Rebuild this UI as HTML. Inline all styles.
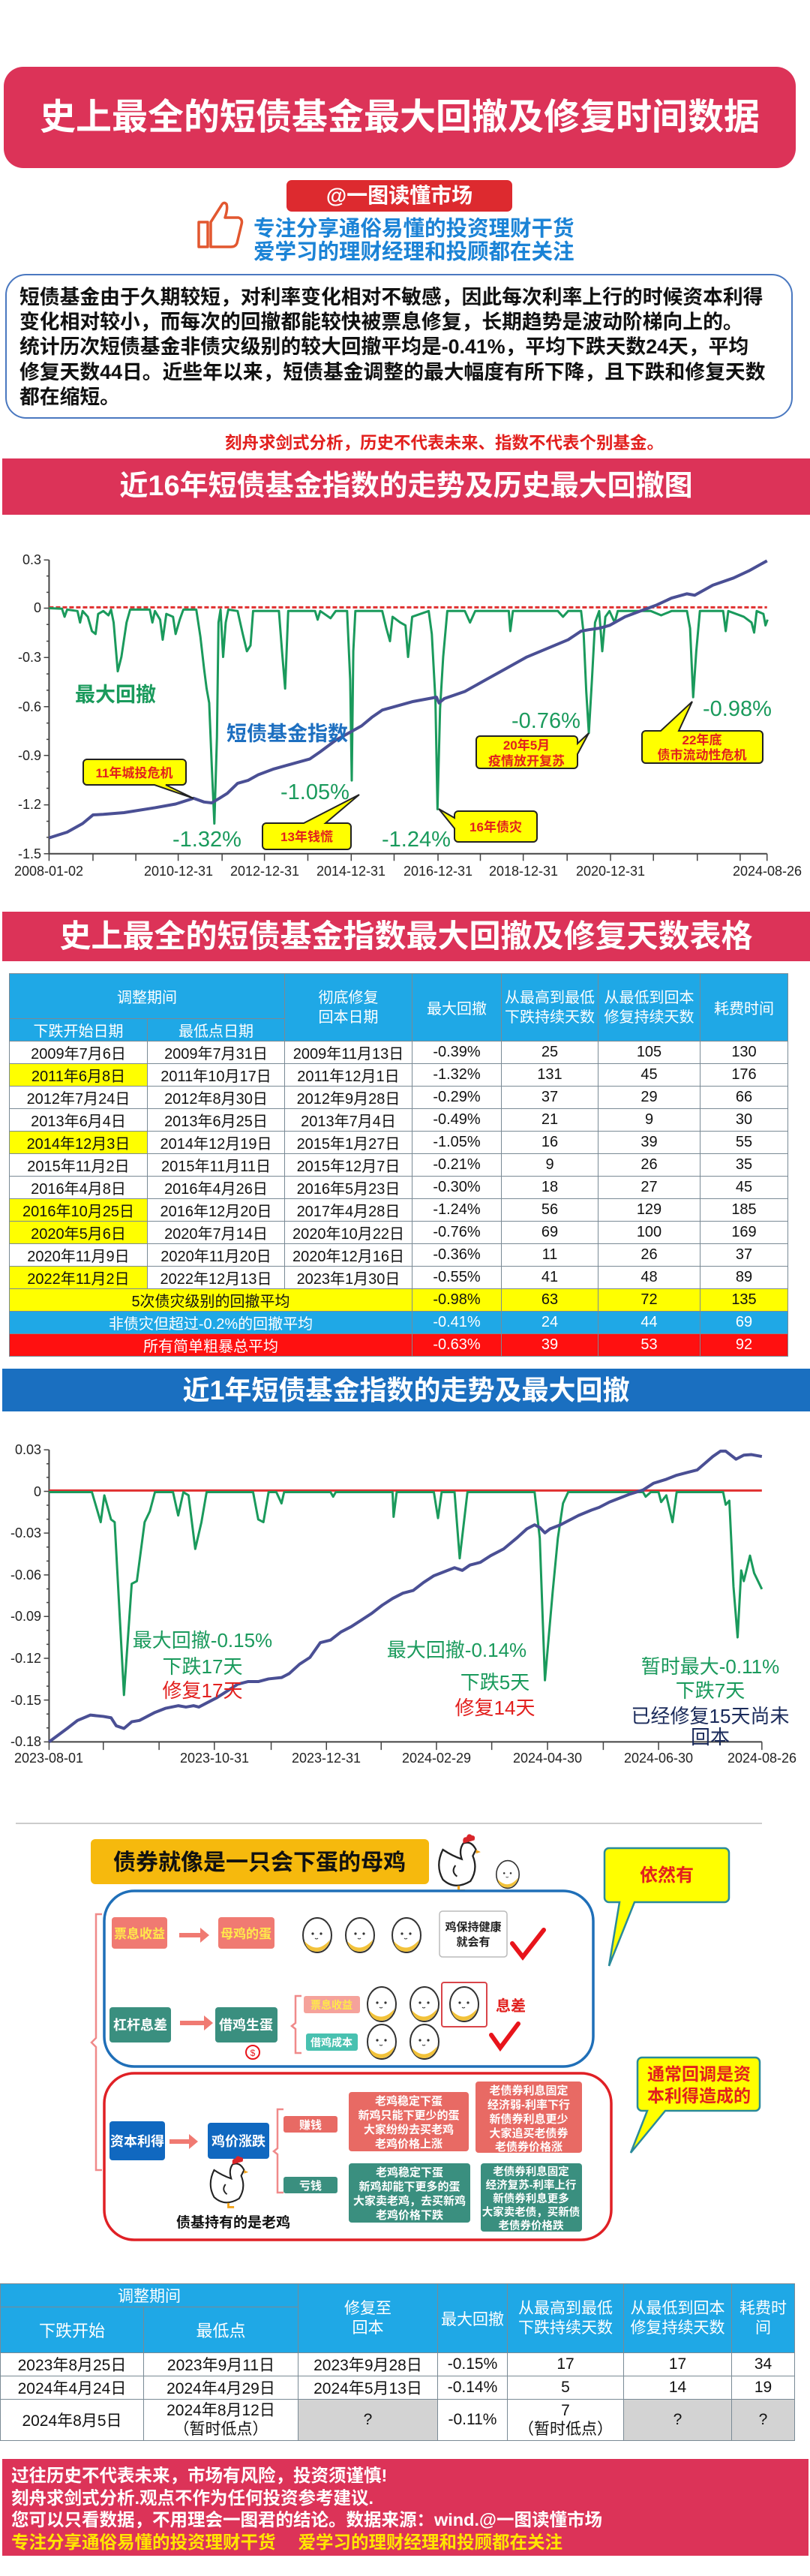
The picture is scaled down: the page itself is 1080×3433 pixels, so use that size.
<!DOCTYPE html>
<html><head><meta charset="utf-8">
<style>
*{margin:0;padding:0;box-sizing:border-box}
body{width:1080px;height:3433px;position:relative;background:#fff;font-family:"Liberation Sans","Noto Sans CJK SC",sans-serif;overflow:hidden}
.a{position:absolute}
.bar{position:absolute;color:#fff;font-weight:bold;text-align:center;white-space:nowrap}
table{border-collapse:collapse;position:absolute;table-layout:fixed}
td{border:1.5px solid #7a8a95;text-align:center;vertical-align:middle;white-space:nowrap;overflow:hidden;padding:0}
.h td{background:#1fa8e6;color:#fff}
.y{background:#ffff00}
.g{background:#d3d3d3}
</style></head><body>

<!-- Title -->
<div class="bar" style="left:5px;top:89px;width:1056px;height:135px;background:#dc3358;border-radius:26px;font-size:48px;line-height:135px">史上最全的短债基金最大回撤及修复时间数据</div>

<div class="bar" style="left:382px;top:240px;width:301px;height:42px;background:#dd2a2f;border-radius:7px;font-size:28px;line-height:42px">@一图读懂市场</div>
<svg class="a" style="left:262px;top:266px" width="64" height="66" viewBox="0 0 64 66">
<path d="M3,30 h12 v33 h-12 z M19,30 L33,8 Q36,2 40,6 Q42,12 38,24 L56,24 Q62,26 60,33 L54,58 Q52,63 46,63 L19,63 Z" fill="none" stroke="#e2572f" stroke-width="3.5" stroke-linejoin="round"/>
</svg>
<div class="a" style="left:338px;top:290px;font-size:28.5px;font-weight:bold;color:#1b83d6;line-height:31px;white-space:nowrap">专注分享通俗易懂的投资理财干货<br>爱学习的理财经理和投顾都在关注</div>

<div class="a" style="left:7px;top:365px;width:1050px;height:193px;border:2.5px solid #4a78c0;border-radius:28px"></div>
<div class="a" style="left:26px;top:380px;width:1030px;font-size:26.8px;font-weight:bold;line-height:33.2px;color:#111;white-space:nowrap">短债基金由于久期较短，对利率变化相对不敏感，因此每次利率上行的时候资本利得<br>变化相对较小，而每次的回撤都能较快被票息修复，长期趋势是波动阶梯向上的。<br>统计历次短债基金非债灾级别的较大回撤平均是-0.41%，平均下跌天数24天，平均<br>修复天数44日。近些年以来，短债基金调整的最大幅度有所下降，且下跌和修复天数<br>都在缩短。</div>
<div class="a" style="left:300px;top:573px;font-size:22.5px;font-weight:bold;color:#e2201e;white-space:nowrap">刻舟求剑式分析，历史不代表未来、指数不代表个别基金。</div>

<div class="bar" style="left:3px;top:611px;width:1077px;height:75px;background:#dc3358;font-size:38px;line-height:75px">近16年短债基金指数的走势及历史最大回撤图</div>

<!-- Chart 16Y -->
<svg class="a" style="left:0;top:0" width="1080" height="1200">
<g transform="translate(0,600) scale(0.6887,0.3827)" fill="none">
 <path d="M95,382 V1405 H1485" stroke="#444" stroke-width="2" vector-effect="non-scaling-stroke"/>
 <g stroke="#444" stroke-width="1.5" vector-effect="non-scaling-stroke">
  <path d="M85,382H95M85,550H95M85,722H95M85,893H95M85,1063H95M85,1235H95M85,1405H95" vector-effect="non-scaling-stroke"/>
  <path d="M90,438H95M90,495H95M90,607H95M90,665H95M90,779H95M90,836H95M90,950H95M90,1007H95M90,1120H95M90,1177H95M90,1292H95M90,1348H95" vector-effect="non-scaling-stroke"/>
  <path d="M95,1405V1430M180,1405V1430M263,1405V1430M345,1405V1430M430,1405V1430M512,1405V1430M596,1405V1430M680,1405V1430M763,1405V1430M848,1405V1430M930,1405V1430M1013,1405V1430M1098,1405V1430M1182,1405V1430M1265,1405V1430M1350,1405V1430M1433,1405V1430M1485,1405V1430" vector-effect="non-scaling-stroke"/>
 </g>
 <path d="M95,547H1485" stroke="#e03030" stroke-width="3" stroke-dasharray="6 3" vector-effect="non-scaling-stroke"/>
 <path d="M95,550 L120,552 L125,580 L130,555 L150,560 L155,600 L160,560 L170,580 L178,630 L185,640 L190,570 L200,560 L210,575 L215,555 L220,600 L228,770 L235,720 L245,600 L252,555 L290,555 L295,600 L300,560 L310,590 L315,660 L322,570 L335,580 L340,640 L348,590 L355,555 L380,555 L388,650 L395,760 L400,830 L405,880 L410,1100 L415,1300 L420,1000 L423,600 L427,555 L432,720 L437,600 L442,555 L460,560 L470,640 L478,700 L485,680 L490,560 L540,560 L546,700 L552,830 L558,560 L610,560 L615,590 L620,560 L640,585 L650,560 L672,560 L678,800 L681,1150 L684,700 L688,560 L740,560 L748,620 L755,665 L760,580 L775,600 L785,610 L790,720 L798,580 L830,560 L836,640 L843,870 L847,1250 L852,900 L858,720 L866,560 L900,560 L910,600 L920,560 L985,560 L988,630 L993,560 L1080,560 L1090,580 L1100,560 L1125,560 L1130,640 L1135,840 L1140,985 L1146,800 L1152,600 L1160,560 L1166,700 L1172,580 L1180,560 L1190,600 L1196,560 L1260,560 L1280,575 L1300,560 L1330,560 L1336,620 L1342,860 L1348,700 L1355,560 L1400,560 L1405,630 L1410,560 L1440,580 L1455,600 L1460,635 L1465,560 L1478,570 L1482,610 L1486,590" stroke="#1a9a5c" stroke-width="3" stroke-linejoin="round" vector-effect="non-scaling-stroke"/>
 <path d="M95,1350 L130,1330 L160,1300 L180,1270 L200,1268 L240,1262 L300,1245 L340,1232 L375,1212 L395,1225 L410,1228 L425,1212 L440,1195 L460,1160 L480,1150 L500,1130 L530,1110 L560,1095 L600,1075 L620,1050 L650,1010 L680,980 L700,960 L720,930 L740,905 L770,890 L800,875 L845,860 L850,880 L860,865 L900,840 L940,800 L980,760 L1020,720 L1060,690 L1100,660 L1125,630 L1140,625 L1160,620 L1180,610 L1210,580 L1240,560 L1270,540 L1300,515 L1330,500 L1345,505 L1380,470 L1420,445 L1450,420 L1485,385" stroke="#4a4f94" stroke-width="4" stroke-linejoin="round" vector-effect="non-scaling-stroke"/>
</g>
<g font-size="18" fill="#222" text-anchor="end">
 <text x="55" y="752">0.3</text><text x="55" y="816">0</text><text x="55" y="882">-0.3</text><text x="55" y="948">-0.6</text><text x="55" y="1013">-0.9</text><text x="55" y="1078">-1.2</text><text x="55" y="1144">-1.5</text>
</g>
<g font-size="18" fill="#222" text-anchor="middle">
 <text x="65" y="1167">2008-01-02</text><text x="238" y="1167">2010-12-31</text><text x="353" y="1167">2012-12-31</text><text x="468" y="1167">2014-12-31</text><text x="584" y="1167">2016-12-31</text><text x="698" y="1167">2018-12-31</text><text x="814" y="1167">2020-12-31</text><text x="1023" y="1167">2024-08-26</text>
</g>
<g font-weight="bold">
 <text x="100" y="935" font-size="27" fill="#1a9a5c">最大回撤</text>
 <text x="302" y="987" font-size="27" fill="#1d6fc0">短债基金指数</text>
</g>
<g font-size="29" fill="#1a9a5c">
 <text x="230" y="1128">-1.32%</text><text x="374" y="1065">-1.05%</text><text x="509" y="1128">-1.24%</text><text x="682" y="970">-0.76%</text><text x="937" y="954">-0.98%</text>
</g>
<g stroke="#222" stroke-width="2" fill="#ffff00">
 <path d="M116,1012 h127 a5,5 0 0 1 5,5 v24 a5,5 0 0 1 -5,5 h-22 l37,18 l-52,-18 h-90 a5,5 0 0 1 -5,-5 v-24 a5,5 0 0 1 5,-5z"/>
 <path d="M355,1097 h50 l74,-38 l-45,38 h29 a5,5 0 0 1 5,5 v25 a5,5 0 0 1 -5,5 h-108 a5,5 0 0 1 -5,-5 v-25 a5,5 0 0 1 5,-5z"/>
 <path d="M611,1081 h100 a5,5 0 0 1 5,5 v31 a5,5 0 0 1 -5,5 h-100 a5,5 0 0 1 -5,-5 v-13 l-21,-26 l21,12 v-4 a5,5 0 0 1 5,-5z"/>
 <path d="M640,981 h125 a5,5 0 0 1 5,5 v5 l15,-14 l-15,28 v14 a5,5 0 0 1 -5,5 h-125 a5,5 0 0 1 -5,-5 v-33 a5,5 0 0 1 5,-5z"/>
 <path d="M861,974 h20 l42,-39 l-18,39 h107 a5,5 0 0 1 5,5 v33 a5,5 0 0 1 -5,5 h-151 a5,5 0 0 1 -5,-5 v-33 a5,5 0 0 1 5,-5z"/>
</g>
<g font-size="17" font-weight="bold" fill="#e2201e" text-anchor="middle">
 <text x="179" y="1036">11年城投危机</text>
 <text x="409" y="1121">13年钱慌</text>
 <text x="661" y="1108">16年债灾</text>
 <text x="702" y="999">20年5月</text><text x="702" y="1020">疫情放开复苏</text>
 <text x="936" y="992">22年底</text><text x="936" y="1012">债市流动性危机</text>
</g>
</svg>

<div class="bar" style="left:3px;top:1215px;width:1077px;height:66px;background:#dc3358;font-size:42px;line-height:66px">史上最全的短债基金指数最大回撤及修复天数表格</div>

<table style="left:12px;top:1297px;width:1038px;font-size:20px;color:#111">
<colgroup><col style="width:184px"><col style="width:183px"><col style="width:170px"><col style="width:119px"><col style="width:129px"><col style="width:136px"><col style="width:117px"></colgroup>
<tr class="h" style="height:60px"><td colspan="2">调整期间</td><td rowspan="2" style="line-height:26px">彻底修复<br>回本日期</td><td rowspan="2">最大回撤</td><td rowspan="2" style="line-height:26px">从最高到最低<br>下跌持续天数</td><td rowspan="2" style="line-height:26px">从最低到回本<br>修复持续天数</td><td rowspan="2">耗费时间</td></tr>
<tr class="h" style="height:28px"><td>下跌开始日期</td><td>最低点日期</td></tr>
<tr style="height:29.6px"><td>2009年7月6日</td><td>2009年7月31日</td><td>2009年11月13日</td><td>-0.39%</td><td>25</td><td>105</td><td>130</td></tr>
<tr style="height:29.6px"><td class="y">2011年6月8日</td><td>2011年10月17日</td><td>2011年12月1日</td><td>-1.32%</td><td>131</td><td>45</td><td>176</td></tr>
<tr style="height:29.6px"><td>2012年7月24日</td><td>2012年8月30日</td><td>2012年9月28日</td><td>-0.29%</td><td>37</td><td>29</td><td>66</td></tr>
<tr style="height:29.6px"><td>2013年6月4日</td><td>2013年6月25日</td><td>2013年7月4日</td><td>-0.49%</td><td>21</td><td>9</td><td>30</td></tr>
<tr style="height:29.6px"><td class="y">2014年12月3日</td><td>2014年12月19日</td><td>2015年1月27日</td><td>-1.05%</td><td>16</td><td>39</td><td>55</td></tr>
<tr style="height:29.6px"><td>2015年11月2日</td><td>2015年11月11日</td><td>2015年12月7日</td><td>-0.21%</td><td>9</td><td>26</td><td>35</td></tr>
<tr style="height:29.6px"><td>2016年4月8日</td><td>2016年4月26日</td><td>2016年5月23日</td><td>-0.30%</td><td>18</td><td>27</td><td>45</td></tr>
<tr style="height:29.6px"><td class="y">2016年10月25日</td><td>2016年12月20日</td><td>2017年4月28日</td><td>-1.24%</td><td>56</td><td>129</td><td>185</td></tr>
<tr style="height:29.6px"><td class="y">2020年5月6日</td><td>2020年7月14日</td><td>2020年10月22日</td><td>-0.76%</td><td>69</td><td>100</td><td>169</td></tr>
<tr style="height:29.6px"><td>2020年11月9日</td><td>2020年11月20日</td><td>2020年12月16日</td><td>-0.36%</td><td>11</td><td>26</td><td>37</td></tr>
<tr style="height:29.6px"><td class="y">2022年11月2日</td><td>2022年12月13日</td><td>2023年1月30日</td><td>-0.55%</td><td>41</td><td>48</td><td>89</td></tr>
<tr style="height:29.6px;background:#ffff00"><td colspan="3">5次债灾级别的回撤平均</td><td>-0.98%</td><td>63</td><td>72</td><td>135</td></tr>
<tr style="height:29.6px;background:#1fa8e6;color:#fff"><td colspan="3">非债灾但超过-0.2%的回撤平均</td><td>-0.41%</td><td>24</td><td>44</td><td>69</td></tr>
<tr style="height:29.6px;background:#ff1010;color:#fff"><td colspan="3">所有简单粗暴总平均</td><td>-0.63%</td><td>39</td><td>53</td><td>92</td></tr>
</table>

<div class="bar" style="left:3px;top:1824px;width:1077px;height:57px;background:#1a6fc0;font-size:36px;line-height:57px">近1年短债基金指数的走势及最大回撤</div>

<!-- Chart 1Y -->
<svg class="a" style="left:0;top:1800px" width="1080" height="640">
<g transform="scale(0.6887,0.3571)" fill="none">
 <path d="M95,370 V1460 H1475" stroke="#444" stroke-width="2" vector-effect="non-scaling-stroke"/>
 <path d="M85,370H95M85,525H95M85,681H95M85,837H95M85,992H95M85,1148H95M85,1304H95M85,1460H95M90,422H95M90,473H95M90,577H95M90,629H95M90,733H95M90,785H95M90,889H95M90,940H95M90,1044H95M90,1096H95M90,1200H95M90,1252H95M90,1356H95M90,1408H95" stroke="#444" stroke-width="1.5" vector-effect="non-scaling-stroke"/>
 <path d="M95,1460V1490M200,1460V1490M308,1460V1490M415,1460V1490M525,1460V1490M632,1460V1490M738,1460V1490M845,1460V1490M952,1460V1490M1060,1460V1490M1168,1460V1490M1275,1460V1490M1475,1460V1490" stroke="#444" stroke-width="1.5" vector-effect="non-scaling-stroke"/>
 <path d="M95,522H1475" stroke="#e03030" stroke-width="3" vector-effect="non-scaling-stroke"/>
 <path d="M95,528 L178,528 L195,640 L202,540 L215,630 L222,640 L240,1285 L255,870 L265,860 L280,640 L290,600 L300,528 L335,528 L345,615 L355,528 L365,540 L378,740 L390,640 L400,528 L490,528 L500,630 L510,640 L520,528 L535,528 L545,570 L550,528 L640,528 L645,545 L650,528 L760,528 L762,620 L768,528 L840,528 L848,625 L855,528 L880,528 L890,775 L905,528 L1035,528 L1045,700 L1055,1230 L1070,900 L1080,700 L1090,570 L1100,528 L1245,528 L1250,545 L1260,528 L1275,528 L1280,565 L1290,540 L1302,640 L1310,528 L1400,528 L1405,575 L1412,560 L1420,880 L1428,1070 L1435,820 L1440,860 L1452,765 L1460,830 L1475,890" stroke="#1a9a5c" stroke-width="3" stroke-linejoin="round" vector-effect="non-scaling-stroke"/>
 <path d="M95,1460 L130,1410 L150,1380 L175,1360 L200,1365 L215,1370 L225,1400 L240,1410 L255,1385 L270,1380 L285,1365 L300,1350 L320,1335 L345,1325 L360,1330 L375,1325 L385,1330 L400,1315 L420,1295 L440,1270 L460,1245 L480,1235 L500,1235 L520,1225 L545,1220 L560,1205 L580,1170 L600,1145 L620,1090 L640,1080 L660,1050 L680,1030 L700,1005 L720,980 L740,950 L760,925 L780,905 L800,895 L820,865 L840,840 L860,825 L880,810 L895,820 L910,800 L930,790 L950,765 L975,740 L1000,700 L1020,665 L1035,650 L1045,660 L1055,680 L1065,665 L1085,650 L1100,635 L1120,615 L1145,595 L1160,585 L1180,565 L1200,550 L1220,535 L1245,520 L1265,495 L1290,480 L1310,465 L1330,455 L1350,445 L1365,420 L1380,395 L1395,375 L1405,375 L1415,390 L1425,405 L1440,390 L1455,388 L1475,395" stroke="#4a4f94" stroke-width="4" stroke-linejoin="round" vector-effect="non-scaling-stroke"/>
</g>
<g font-size="18" fill="#222" text-anchor="end">
 <text x="55" y="138">0.03</text><text x="55" y="194">0</text><text x="55" y="249">-0.03</text><text x="55" y="305">-0.06</text><text x="55" y="360">-0.09</text><text x="55" y="416">-0.12</text><text x="55" y="472">-0.15</text><text x="55" y="527">-0.18</text>
</g>
<g font-size="18" fill="#222" text-anchor="middle">
 <text x="65" y="549">2023-08-01</text><text x="286" y="549">2023-10-31</text><text x="435" y="549">2023-12-31</text><text x="582" y="549">2024-02-29</text><text x="730" y="549">2024-04-30</text><text x="878" y="549">2024-06-30</text><text x="1016" y="549">2024-08-26</text>
</g>
<g font-size="26" text-anchor="middle">
 <text x="270" y="395" fill="#1a9a5c">最大回撤-0.15%</text>
 <text x="270" y="430" fill="#1a9a5c">下跌17天</text>
 <text x="270" y="462" fill="#e2201e">修复17天</text>
 <text x="609" y="408" fill="#1a9a5c">最大回撤-0.14%</text>
 <text x="660" y="451" fill="#1a9a5c">下跌5天</text>
 <text x="660" y="485" fill="#e2201e">修复14天</text>
 <text x="947" y="430" fill="#1a9a5c">暂时最大-0.11%</text>
 <text x="947" y="462" fill="#1a9a5c">下跌7天</text>
 <text x="947" y="496" fill="#1a2a5a">已经修复15天尚未</text>
 <text x="947" y="524" fill="#1a2a5a">回本</text>
</g>
<line x1="21" y1="630" x2="1016" y2="630" stroke="#ccc" stroke-width="2"/>
</svg>

<!-- Diagram -->
<svg class="a" style="left:0;top:0" width="1080" height="3433" viewBox="0 0 1080 3433">
<defs>
 <g id="egg"><ellipse cx="0" cy="0" rx="19" ry="23" fill="#fff" stroke="#333" stroke-width="2"/><path d="M-17,8 Q0,26 17,6 Q14,20 0,22 Q-14,22 -17,8z" fill="#f2c23a"/><circle cx="-6" cy="-2" r="1.6" fill="#333"/><circle cx="5" cy="-2" r="1.6" fill="#333"/><path d="M-3,4 q2,2 4,0" stroke="#333" fill="none"/></g>
 <g id="hen"><path d="M10,20 Q0,40 10,58 Q25,72 45,60 Q55,45 48,28 L52,20 Q46,8 36,12 Q30,20 34,32 Q22,28 10,20z" fill="#fff" stroke="#222" stroke-width="2.2"/><path d="M36,12 q-2,-8 4,-8 q2,-6 7,-2 q5,0 3,6z" fill="#d9252a"/><path d="M52,20 l6,3 l-6,2z" fill="#f2a31a"/><path d="M30,66 v6 h8" stroke="#f2a31a" stroke-width="3" fill="none"/><path d="M26,40 q-6,8 2,14" stroke="#222" stroke-width="2" fill="none"/></g>
</defs>
<rect x="121" y="2451" width="451" height="60" rx="6" fill="#f6b90d"/>
<text x="346" y="2492" font-size="30" font-weight="bold" fill="#111" text-anchor="middle">债券就像是一只会下蛋的母鸡</text>
<use href="#hen" transform="translate(580,2444) scale(1.05)"/>
<use href="#egg" transform="translate(677,2498) scale(0.8)"/>

<rect x="139" y="2520" width="652" height="234" rx="40" fill="none" stroke="#1f6fb8" stroke-width="3.5"/>
<path d="M136,2551 h-8 v165 l-6,6 l6,6 v164 h8" fill="none" stroke="#f08a8a" stroke-width="2.5"/>
<rect x="149" y="2555" width="74" height="42" rx="4" fill="#f07a72"/><text x="186" y="2583" font-size="17" font-weight="bold" fill="#ffe94a" text-anchor="middle">票息收益</text>
<path d="M239,2576 h28 v-7 l12,10 l-12,10 v-7 h-28z" fill="#f07a72"/>
<rect x="291" y="2555" width="75" height="42" rx="4" fill="#f07a72"/><text x="328" y="2583" font-size="17" font-weight="bold" fill="#ffe94a" text-anchor="middle">母鸡的蛋</text>
<use href="#egg" x="423" y="2579"/><use href="#egg" x="480" y="2579"/><use href="#egg" x="542" y="2579"/>
<rect x="586" y="2547" width="90" height="61" rx="4" fill="#fff" stroke="#bbb" stroke-width="1.5"/>
<text x="631" y="2573" font-size="15" font-weight="bold" fill="#222" text-anchor="middle">鸡保持健康</text><text x="631" y="2593" font-size="15" font-weight="bold" fill="#222" text-anchor="middle">就会有</text>
<path d="M683,2590 l14,18 l28,-36" fill="none" stroke="#e8141b" stroke-width="6" stroke-linecap="round"/>

<rect x="146" y="2675" width="82" height="47" rx="4" fill="#3a8f7f"/><text x="187" y="2705" font-size="18" font-weight="bold" fill="#fff" text-anchor="middle">杠杆息差</text>
<path d="M240,2693 h32 v-7 l12,10 l-12,10 v-7 h-32z" fill="#f07a72"/>
<rect x="287" y="2675" width="83" height="47" rx="4" fill="#3a8f7f"/><text x="328" y="2705" font-size="18" font-weight="bold" fill="#fff" text-anchor="middle">借鸡生蛋</text>
<path d="M402,2660 h-8 v36 l-5,4 l5,4 v32 h8" fill="none" stroke="#f08a8a" stroke-width="2.5"/>
<rect x="405" y="2660" width="75" height="23" rx="3" fill="#f5a29b"/><text x="442" y="2677" font-size="14" font-weight="bold" fill="#ffe94a" text-anchor="middle">票息收益</text>
<rect x="408" y="2710" width="69" height="23" rx="3" fill="#48c1b0"/><text x="442" y="2727" font-size="14" font-weight="bold" fill="#fff" text-anchor="middle">借鸡成本</text>
<use href="#egg" x="509" y="2671"/><use href="#egg" x="566" y="2671"/><use href="#egg" x="619" y="2671"/>
<rect x="589" y="2642" width="60" height="59" rx="3" fill="none" stroke="#d9454a" stroke-width="2"/>
<text x="661" y="2680" font-size="20" font-weight="bold" fill="#e2201e">息差</text>
<use href="#egg" x="509" y="2721"/><use href="#egg" x="566" y="2721"/>
<path d="M655,2712 l12,17 l24,-32" fill="none" stroke="#e8141b" stroke-width="6" stroke-linecap="round"/>
<circle cx="337" cy="2735" r="9" fill="none" stroke="#e8141b" stroke-width="2"/><text x="337" y="2740" font-size="12" fill="#e8141b" text-anchor="middle">$</text>

<path d="M139,2803 a40,40 0 0 1 40,-40 H775 a40,40 0 0 1 40,40 V2945 a40,40 0 0 1 -40,40 H179 a40,40 0 0 1 -40,-40 Z" fill="none" stroke="#e02025" stroke-width="3.5"/>
<rect x="146" y="2827" width="74" height="52" rx="4" fill="#1068c0"/><text x="183" y="2860" font-size="18" font-weight="bold" fill="#fff" text-anchor="middle">资本利得</text>
<path d="M226,2851 h26 v-7 l12,10 l-12,10 v-7 h-26z" fill="#f07a72"/>
<rect x="277" y="2829" width="82" height="48" rx="4" fill="#1068c0"/><text x="318" y="2860" font-size="18" font-weight="bold" fill="#fff" text-anchor="middle">鸡价涨跌</text>
<path d="M378,2811 h-8 v52 l-5,4 l5,4 v51 h8" fill="none" stroke="#f08a8a" stroke-width="2.5"/>
<rect x="378" y="2820" width="72" height="22" rx="3" fill="#e86a64"/><text x="414" y="2837" font-size="15" font-weight="bold" fill="#fff" text-anchor="middle">赚钱</text>
<rect x="378" y="2901" width="72" height="22" rx="3" fill="#3a8f7f"/><text x="414" y="2918" font-size="15" font-weight="bold" fill="#fff" text-anchor="middle">亏钱</text>
<rect x="465" y="2788" width="160" height="79" rx="4" fill="#e86a64"/>
<g font-size="15" font-weight="bold" fill="#fff" text-anchor="middle">
 <text x="545" y="2805">老鸡稳定下蛋</text><text x="545" y="2824">新鸡只能下更少的蛋</text><text x="545" y="2843">大家纷纷去买老鸡</text><text x="545" y="2862">老鸡价格上涨</text>
</g>
<rect x="634" y="2774" width="142" height="95" rx="4" fill="#e86a64"/>
<g font-size="15" font-weight="bold" fill="#fff" text-anchor="middle">
 <text x="705" y="2791">老债券利息固定</text><text x="705" y="2810">经济弱-利率下行</text><text x="705" y="2829">新债券利息更少</text><text x="705" y="2848">大家追买老债券</text><text x="705" y="2866">老债券价格涨</text>
</g>
<rect x="465" y="2883" width="162" height="79" rx="4" fill="#3a8f7f"/>
<g font-size="15" font-weight="bold" fill="#fff" text-anchor="middle">
 <text x="546" y="2900">老鸡稳定下蛋</text><text x="546" y="2919">新鸡却能下更多的蛋</text><text x="546" y="2938">大家卖老鸡，去买新鸡</text><text x="546" y="2957">老鸡价格下跌</text>
</g>
<rect x="641" y="2883" width="135" height="91" rx="4" fill="#3a8f7f"/>
<g font-size="14.5" font-weight="bold" fill="#fff" text-anchor="middle">
 <text x="708" y="2899">老债券利息固定</text><text x="708" y="2917">经济复苏-利率上行</text><text x="708" y="2935">新债券利息更多</text><text x="708" y="2953">大家卖老债，买新债</text><text x="708" y="2971">老债券价格跌</text>
</g>
<use href="#hen" transform="translate(276,2873) scale(0.95)"/>
<text x="311" y="2968" font-size="19" font-weight="bold" fill="#111" text-anchor="middle">债基持有的是老鸡</text>

<path d="M812,2463 h154 a6,6 0 0 1 6,6 v60 a6,6 0 0 1 -6,6 h-120 l-34,85 l14,-85 h-14 a6,6 0 0 1 -6,-6 v-60 a6,6 0 0 1 6,-6z" fill="#ffff00" stroke="#2a8a9a" stroke-width="2.5"/>
<text x="889" y="2507" font-size="24" font-weight="bold" fill="#e2201e" text-anchor="middle">依然有</text>
<path d="M856,2742 h151 a6,6 0 0 1 6,6 v59 a6,6 0 0 1 -6,6 h-120 l-46,56 l22,-56 h-7 a6,6 0 0 1 -6,-6 v-59 a6,6 0 0 1 6,-6z" fill="#ffff00" stroke="#2a8a9a" stroke-width="2.5"/>
<text x="932" y="2772" font-size="23" font-weight="bold" fill="#e2201e" text-anchor="middle">通常回调是资</text>
<text x="932" y="2801" font-size="23" font-weight="bold" fill="#e2201e" text-anchor="middle">本利得造成的</text>
</svg>

<!-- Table 2 -->
<table style="left:0;top:3043px;width:1059px;font-size:21px;color:#111">
<colgroup><col style="width:191px"><col style="width:206px"><col style="width:186px"><col style="width:93px"><col style="width:155px"><col style="width:144px"><col style="width:84px"></colgroup>
<tr class="h" style="height:29px"><td colspan="2">调整期间</td><td rowspan="2" style="line-height:26px">修复至<br>回本</td><td rowspan="2">最大回撤</td><td rowspan="2" style="line-height:26px">从最高到最低<br>下跌持续天数</td><td rowspan="2" style="line-height:26px">从最低到回本<br>修复持续天数</td><td rowspan="2" style="line-height:26px">耗费时<br>间</td></tr>
<tr class="h" style="height:61px"><td style="font-size:22px">下跌开始</td><td style="font-size:22px">最低点</td></tr>
<tr style="height:30px"><td>2023年8月25日</td><td>2023年9月11日</td><td>2023年9月28日</td><td>-0.15%</td><td>17</td><td>17</td><td>34</td></tr>
<tr style="height:30px"><td>2024年4月24日</td><td>2024年4月29日</td><td>2024年5月13日</td><td>-0.14%</td><td>5</td><td>14</td><td>19</td></tr>
<tr style="height:55px"><td>2024年8月5日</td><td style="line-height:25px">2024年8月12日<br>（暂时低点）</td><td class="g">?</td><td>-0.11%</td><td style="line-height:25px">7<br>（暂时低点）</td><td class="g">?</td><td class="g">?</td></tr>
</table>

<div class="a" style="left:3px;top:3277px;width:1075px;height:129px;background:#dc3358;padding:8px 0 0 12px;font-size:23.5px;font-weight:bold;line-height:29.5px;color:#fff;white-space:nowrap">过往历史不代表未来，市场有风险，投资须谨慎!<br>刻舟求剑式分析.观点不作为任何投资参考建议.<br>您可以只看数据，不用理会一图君的结论。数据来源：wind.@一图读懂市场<br><span style="color:#ffe600">专注分享通俗易懂的投资理财干货　 爱学习的理财经理和投顾都在关注</span></div>

</body></html>
